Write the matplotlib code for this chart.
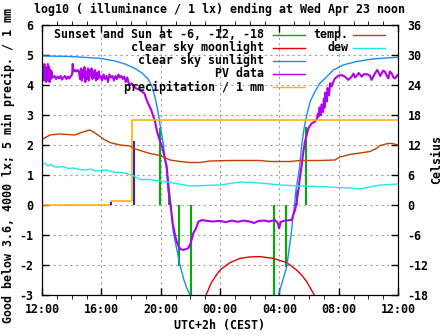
import matplotlib
matplotlib.use("Agg")
import matplotlib.pyplot as plt
import numpy as np

plt.rcParams['font.family'] = 'DejaVu Sans Mono'
plt.rcParams['font.weight'] = 'bold'
plt.rcParams['font.size'] = 8.4
plt.rcParams['axes.titlesize'] = 8.4
plt.rcParams['axes.titleweight'] = 'bold'
plt.rcParams['axes.labelweight'] = 'bold'
plt.rcParams['axes.unicode_minus'] = False

# hours after 12:00 on the x axis
hour_ticks = [0, 4, 8, 12, 16, 20, 24]
hour_labels = ["12:00", "16:00", "20:00", "00:00", "04:00", "08:00", "12:00"]

# sunset / sun at -6, -12, -18 (evening then morning), drawn from 0 to clear sky value
sun_times = [7.975, 8.56, 9.26, 10.07, 15.66, 16.47, 17.19, 17.82]
sun_tops = [2.58, 0.5, -2.02, -3.0, -3.0, -2.06, 0.5, 2.59]

# clear sky moonlight, log10 lx
moon_t = [11.06, 11.4, 11.73, 12.0, 12.67, 13.35, 14.02, 14.70, 15.60, 16.50, 17.17,
          17.53, 17.85, 18.07, 18.29, 18.36]
moon_v = [-3.0, -2.61, -2.35, -2.17, -1.92, -1.78, -1.73, -1.72, -1.78, -1.92, -2.17,
          -2.35, -2.56, -2.75, -2.94, -3.0]

# clear sky sunlight, log10 lx
sun_t = [0.0, 1.89, 3.91, 4.92, 5.6, 6.27, 6.74, 7.15, 7.42, 7.62, 7.75, 7.89, 7.98,
         8.09, 8.19, 8.29, 8.52, 8.63, 8.74, 8.85, 8.97, 9.14, 9.30, 9.57, 9.75, 9.98, 10.1,
         15.8, 15.94, 16.18, 16.5, 16.65, 16.79, 16.92, 17.02, 17.12, 17.35, 17.51, 17.67,
         17.85, 18.07, 18.4, 18.74, 19.2, 19.64, 20.31, 21.2, 22.34, 23.46, 24.0]
sun_v = [4.97, 4.95, 4.89, 4.80, 4.70, 4.55, 4.40, 4.20, 3.95, 3.6, 3.28, 2.9, 2.6,
         2.3, 2.0, 1.5, 0.83, 0.28, -0.35, -0.9, -1.2, -1.6, -2.0, -2.5, -2.75, -3.0, -3.2,
         -3.2, -3.0, -2.6, -2.06, -1.5, -1.0, -0.4, 0.0, 0.5, 1.2, 2.0, 2.56,
         3.0, 3.44, 3.78, 4.06, 4.28, 4.5, 4.67, 4.78, 4.87, 4.91, 4.92]

# PV data, log10 lx
pv_t = [0.0, 0.04, 0.08, 0.12, 0.16, 0.2, 0.24, 0.28, 0.32, 0.36, 0.4, 0.44, 0.48, 0.52,
        0.56, 0.6, 0.64, 0.68, 0.75, 0.85, 0.95, 1.05, 1.15, 1.25, 1.35, 1.45, 1.55, 1.65,
        1.75, 1.85, 1.95, 2.03, 2.07, 2.12, 2.2, 2.3, 2.4, 2.5,
        2.56, 2.62, 2.68, 2.74, 2.8, 2.86, 2.92, 2.98, 3.04, 3.1, 3.16, 3.22, 3.28, 3.34,
        3.4, 3.46, 3.52, 3.58, 3.64, 3.7, 3.76, 3.82, 3.88, 3.95, 4.05, 4.15, 4.25, 4.35,
        4.45, 4.55, 4.65, 4.75, 4.85, 4.95, 5.05, 5.15, 5.25, 5.35, 5.45, 5.55, 5.65, 5.75,
        5.85, 5.93, 6.05, 6.3, 6.6, 6.9, 7.1, 7.36, 7.62, 7.76, 7.97, 8.1, 8.41, 8.52,
        8.68, 8.81, 8.97, 9.12, 9.3, 9.53, 9.86, 10.02, 10.2, 10.38, 10.54, 10.77, 11.0,
        11.5, 12.0, 12.4, 12.8, 13.2, 13.6, 14.0, 14.3, 14.6, 15.0, 15.3, 15.7, 15.9,
        15.98, 16.1, 16.4, 16.83, 16.94, 17.06, 17.13, 17.22, 17.29, 17.35, 17.51, 17.62,
        17.73, 17.96, 18.18, 18.4, 18.55, 18.6, 18.65, 18.7, 18.8, 18.85, 18.95, 19.0,
        19.05, 19.1, 19.2, 19.25, 19.35, 19.42, 19.53, 19.64, 19.75, 19.98, 20.2, 20.43,
        20.65, 20.88, 21.0, 21.1, 21.22, 21.35, 21.56, 21.7, 21.89, 22.11, 22.22, 22.45,
        22.6, 22.67, 22.8, 22.9, 23.0, 23.12, 23.25, 23.35, 23.45, 23.57, 23.7, 23.8,
        23.95, 24.0]
pv_v = [4.55, 4.2, 4.65, 4.15, 4.7, 4.25, 4.6, 4.1, 4.55, 4.2, 4.7, 4.15, 4.6, 4.1,
        4.5, 4.2, 4.45, 4.3, 4.25, 4.3, 4.2, 4.28, 4.22, 4.3, 4.18, 4.25, 4.3, 4.2,
        4.28, 4.22, 4.3, 4.35, 4.7, 4.45, 4.5, 4.45, 4.5, 4.42,
        4.2, 4.55, 4.15, 4.5, 4.25, 4.6, 4.1, 4.45, 4.2, 4.55, 4.15, 4.5, 4.3, 4.55,
        4.2, 4.45, 4.25, 4.5, 4.15, 4.4, 4.2, 4.45, 4.25, 4.3, 4.15, 4.35, 4.2, 4.3,
        4.1, 4.35, 4.25, 4.3, 4.15, 4.3, 4.2, 4.35, 4.25, 4.3, 4.2, 4.28, 4.1, 4.25,
        4.05, 4.0, 4.05, 3.9, 3.83, 3.72, 3.44, 3.17, 2.78, 2.44, 2.11, 1.95, 1.28, 0.5,
        -0.06, -0.61, -1.0, -1.28, -1.46, -1.5, -1.44, -1.28, -0.94, -0.78, -0.56, -0.5, -0.52,
        -0.55, -0.53, -0.57, -0.52, -0.56, -0.52, -0.55, -0.6, -0.53, -0.52, -0.55, -0.5, -0.61,
        -0.78, -0.56, -0.52, -0.5, -0.33, -0.17, 0.0, 0.28, 0.5, 0.78, 1.33, 1.78,
        2.11, 2.56, 2.72, 2.78, 2.9, 3.05, 2.95, 3.25, 3.0, 3.35, 3.1, 3.55,
        3.25, 3.75, 3.45, 3.9, 3.65, 4.06, 3.95, 4.11, 4.22, 4.31, 4.33, 4.28,
        4.17, 4.28, 4.38, 4.25, 4.31, 4.4, 4.28, 4.36, 4.36, 4.31, 4.17, 4.39,
        4.5, 4.44, 4.3, 4.39, 4.48, 4.44, 4.3, 4.22, 4.45, 4.39, 4.25, 4.22,
        4.33, 4.3]

# precipitation, cumulative, mm
precip_t = [0.0, 4.65, 6.1, 24.0]
precip_v = [0.0, 0.13, 2.83, 2.83]

# 5 min precipitation, mm
precip5_t = [4.65, 6.2]
precip5_v = [0.1, 2.15]

# temperature and dew point, Celsius
temp_t = [0.0, 0.54, 1.21, 2.22, 2.56, 3.1, 3.24, 3.57, 3.91, 4.18, 4.58, 5.26, 5.93,
          6.2, 6.61, 7.28, 7.96, 8.63, 9.30, 9.98, 10.65, 11.33, 12.67, 14.70, 15.37,
          16.72, 17.39, 18.74, 19.75, 20.09, 20.76, 21.44, 22.11, 22.55, 22.79, 23.33,
          23.6, 24.0]
temp_v = [13.1, 14.0, 14.2, 14.0, 14.4, 14.9, 15.0, 14.4, 13.7, 13.1, 12.5, 12.0, 11.8,
          11.3, 10.9, 10.3, 9.9, 9.0, 8.7, 8.5, 8.5, 8.8, 8.9, 8.9, 8.7,
          8.7, 8.9, 8.9, 9.0, 9.6, 10.1, 10.4, 10.7, 11.3, 11.9, 12.3,
          12.3, 12.0]

dew_t = [0.0, 0.15, 0.3, 0.4, 0.5, 0.6, 0.9, 1.21, 1.4, 1.8, 2.1, 2.56, 2.9, 3.3, 3.6,
         3.91, 4.3, 4.8, 5.26, 5.7, 6.2, 6.61, 7.28, 7.96, 8.63, 9.98, 12.0, 13.35, 14.7,
         16.05, 17.39, 19.42, 20.76, 21.44, 22.11, 22.79, 24.0]
dew_v = [8.0, 8.4, 8.1, 7.8, 7.9, 8.1, 7.6, 7.6, 7.7, 7.3, 7.4, 7.1, 7.0, 7.2, 6.8,
         6.9, 7.0, 6.6, 6.5, 6.3, 5.8, 5.1, 5.1, 4.8, 4.5, 3.8, 4.0, 4.6, 4.4,
         4.0, 3.8, 3.6, 3.4, 3.2, 3.6, 4.0, 4.2]

c_green = '#00b000'
c_red = '#e80000'
c_blue = '#1a8cf0'
c_pv = '#b000f0'
c_precip = '#ffb400'
c_precip5 = '#2828c8'
c_temp = '#c04000'
c_dew = '#20e8e8'

fig = plt.figure(figsize=(4.47, 3.35), dpi=100)
ax = fig.add_axes([42/447, 40/335, 356/447, 270/335])

ax.vlines(sun_times, 0, sun_tops, color=c_green, lw=1.5)
ax.plot(moon_t, moon_v, color=c_red, lw=1)
ax.plot(sun_t, sun_v, color=c_blue, lw=1)
ax.plot(pv_t, pv_v, color=c_pv, lw=1.5)
ax.step(precip_t, precip_v, where='post', color=c_precip, lw=1.2)
ax.vlines(precip5_t, 0, precip5_v, color=c_precip5, lw=1.5)

ax.set_xlim(0, 24)
ax.set_ylim(-3, 6)
ax.set_xticks(hour_ticks)
ax.set_xticklabels(hour_labels)
ax.set_xticks(range(25), minor=True)
ax.set_yticks(range(-3, 7))
ax.tick_params(axis='both', direction='in', length=5, width=1, pad=6)
ax.tick_params(axis='x', which='both', top=True, pad=6)
ax.tick_params(axis='x', which='minor', length=3)
ax.grid(True, color='#a0a0a0', linestyle=(0, (2, 3)), linewidth=0.8)
ax.set_xlabel("UTC+2h (CEST)", labelpad=2)
ax.set_title("log10 ( illuminance / 1 lx) ending at Wed Apr 23 noon", pad=9)
ax.set_ylim(-3, 6)

ax2 = ax.twinx()
ax2.plot(temp_t, temp_v, color=c_temp, lw=1)
ax2.plot(dew_t, dew_v, color=c_dew, lw=1)
ax2.set_ylim(-18, 36)
ax2.set_yticks(range(-18, 37, 6))
ax2.tick_params(axis='y', direction='in', length=5, width=1, pad=7)
ax2.set_ylabel("Celsius", labelpad=1)

fig.text(8/447, 0.505, "Good below 3.6, 4000 lx; 5 min precip. / 1 mm", rotation=90,
         ha='center', va='center')

# legend drawn gnuplot style: text right aligned, sample line to the right
legend1 = [("Sunset and Sun at -6, -12, -18", c_green),
           ("clear sky moonlight", c_red),
           ("clear sky sunlight", c_blue),
           ("PV data", c_pv),
           ("precipitation / 1 mm", c_precip)]
legend2 = [("temp.", c_temp), ("dew", c_dew)]
row_y = [0.963, 0.915, 0.867, 0.819, 0.770]
for (lab, col), yy in zip(legend1, row_y):
    ax2.text(0.624, yy, lab, transform=ax.transAxes, ha='right', va='center')
    ax2.plot([0.649, 0.739], [yy, yy], transform=ax.transAxes, color=col, lw=1)
for (lab, col), yy in zip(legend2, row_y):
    ax2.text(0.862, yy, lab, transform=ax.transAxes, ha='right', va='center')
    ax2.plot([0.874, 0.963], [yy, yy], transform=ax.transAxes, color=col, lw=1)

fig.savefig("out.png", dpi=100)
